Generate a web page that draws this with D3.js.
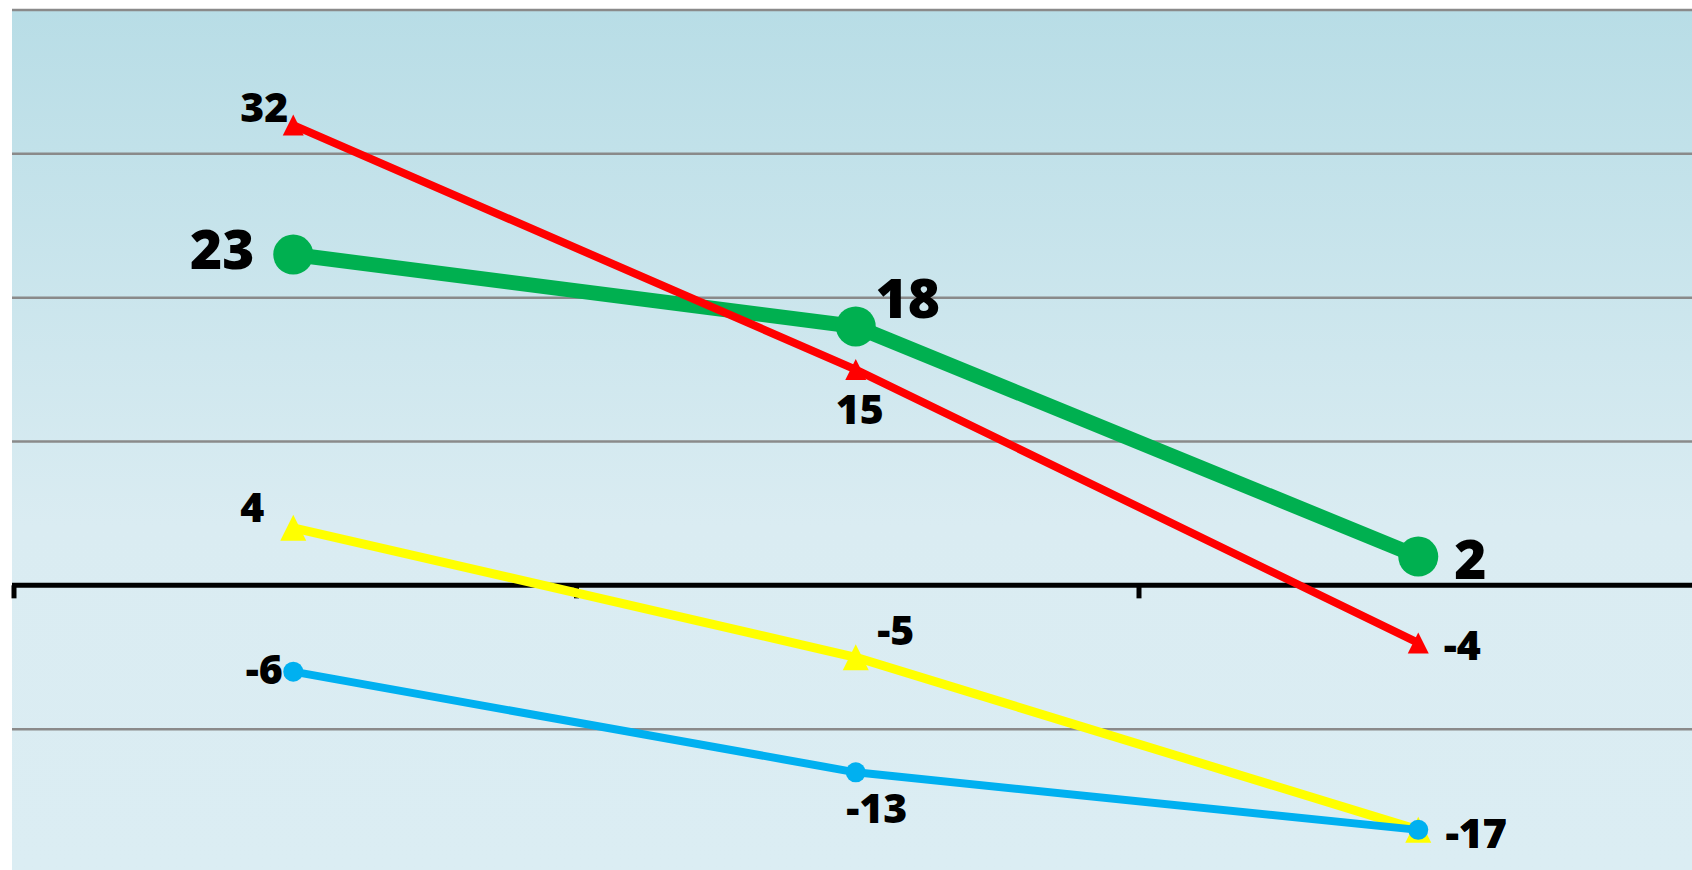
<!DOCTYPE html>
<html>
<head>
<meta charset="utf-8">
<script src="https://cdn.jsdelivr.net/npm/d3@7"></script>
<style>
  body { margin: 0; background: #fff; overflow: hidden; }
  text { font-family: "Open Sans", "DejaVu Sans", sans-serif; font-weight: 800; fill: #000; }
</style>
</head>
<body>
<div id="chart"></div>
<script>
// data
var categories = ["1", "2", "3"]
var greenVals = [23, 18, 2]
var redVals = [32, 15, -4]
var yellowVals = [4, -5, -17]
var blueVals = [-6, -13, -17]
var gridTicks = [-10, 10, 20, 30, 40]

const svgWidth = 1692
const svgHeight = 870
var plotLeft = 12
var plotTop = 9

// label offsets from the point (dx, dy) - layout only
var series = [
    {vals: greenVals, color: "#00B050", width: 15, marker: "circle", size: 20, font: 55,
     offs: [[-71, 14], [52, -8], [52, 22]]},
    {vals: redVals, color: "#FF0000", width: 8, marker: "triangle", size: 21, font: 41,
     offs: [[-29, -3], [4, 54], [44, 17]]},
    {vals: yellowVals, color: "#FFFF00", width: 9, marker: "triangle", size: 26, font: 41,
     offs: [[-41, -6], [40, -12], [58, 18]]},
    {vals: blueVals, color: "#00B0F0", width: 8, marker: "circle", size: 10, font: 41,
     offs: [[-29, 12], [21, 51], [58, 18]]}
]

var svg = d3.select("#chart")
    .append("svg")
    .attr("width", svgWidth)
    .attr("height", svgHeight)

var grad = svg.append("defs").append("linearGradient")
    .attr("id", "bg")
    .attr("x1", 0).attr("y1", 0).attr("x2", 0).attr("y2", 1)
grad.append("stop").attr("offset", "0%").attr("stop-color", "#B8DDE6")
grad.append("stop").attr("offset", "60%").attr("stop-color", "#DAECF2")
grad.append("stop").attr("offset", "100%").attr("stop-color", "#DBEDF3")

var xScale = d3.scaleBand()
    .domain(categories)
    .range([plotLeft, 1699.5])

var yScale = d3.scaleLinear()
    .domain([-19.79, 40])
    .range([svgHeight, 10])

svg.append("rect")
    .attr("x", plotLeft)
    .attr("y", plotTop)
    .attr("width", svgWidth - plotLeft)
    .attr("height", svgHeight - plotTop)
    .style("fill", "url(#bg)")

// gridlines
svg.selectAll(".grid")
    .data(gridTicks)
    .enter()
    .append("line")
    .attr("class", "grid")
    .attr("x1", plotLeft)
    .attr("x2", svgWidth)
    .attr("y1", d => yScale(d))
    .attr("y2", d => yScale(d))
    .style("stroke", "#8A8A8A")
    .style("stroke-width", "2.5px")

// zero axis with ticks at category boundaries
var y0 = yScale(0)
svg.append("line")
    .attr("x1", plotLeft)
    .attr("x2", svgWidth)
    .attr("y1", y0)
    .attr("y2", y0)
    .style("stroke", "#000")
    .style("stroke-width", "5px")

svg.selectAll(".tick")
    .data(categories)
    .enter()
    .append("line")
    .attr("class", "tick")
    .attr("x1", d => xScale(d) + 2)
    .attr("x2", d => xScale(d) + 2)
    .attr("y1", y0)
    .attr("y2", y0 + 13)
    .style("stroke", "#000")
    .style("stroke-width", "5px")

var xc = d => xScale(d) + xScale.bandwidth() / 2

var line = d3.line()
    .x((d, i) => xc(categories[i]))
    .y(d => yScale(d))

series.forEach(function(s) {
    var g = svg.append("g")
    g.append("path")
        .datum(s.vals)
        .attr("d", line)
        .style("fill", "none")
        .style("stroke", s.color)
        .style("stroke-width", s.width + "px")
        .style("stroke-linejoin", "round")

    if (s.marker === "circle") {
        g.selectAll("circle")
            .data(s.vals)
            .enter()
            .append("circle")
            .attr("cx", (d, i) => xc(categories[i]))
            .attr("cy", d => yScale(d))
            .attr("r", s.size)
            .style("fill", s.color)
    } else {
        var h = s.size
        g.selectAll("path.mk")
            .data(s.vals)
            .enter()
            .append("path")
            .attr("class", "mk")
            .attr("transform", (d, i) => "translate(" + xc(categories[i]) + "," + yScale(d) + ")")
            .attr("d", "M0," + (-h / 2) + "L" + (h / 2) + "," + (h / 2) + "L" + (-h / 2) + "," + (h / 2) + "Z")
            .style("fill", s.color)
    }
})

// data labels on top
series.forEach(function(s) {
    svg.append("g")
        .selectAll("text")
        .data(s.vals)
        .enter()
        .append("text")
        .attr("x", (d, i) => xc(categories[i]) + s.offs[i][0])
        .attr("y", (d, i) => yScale(d) + s.offs[i][1])
        .attr("text-anchor", "middle")
        .style("font-size", s.font + "px")
        .text(d => d)
})
</script>
</body>
</html>
